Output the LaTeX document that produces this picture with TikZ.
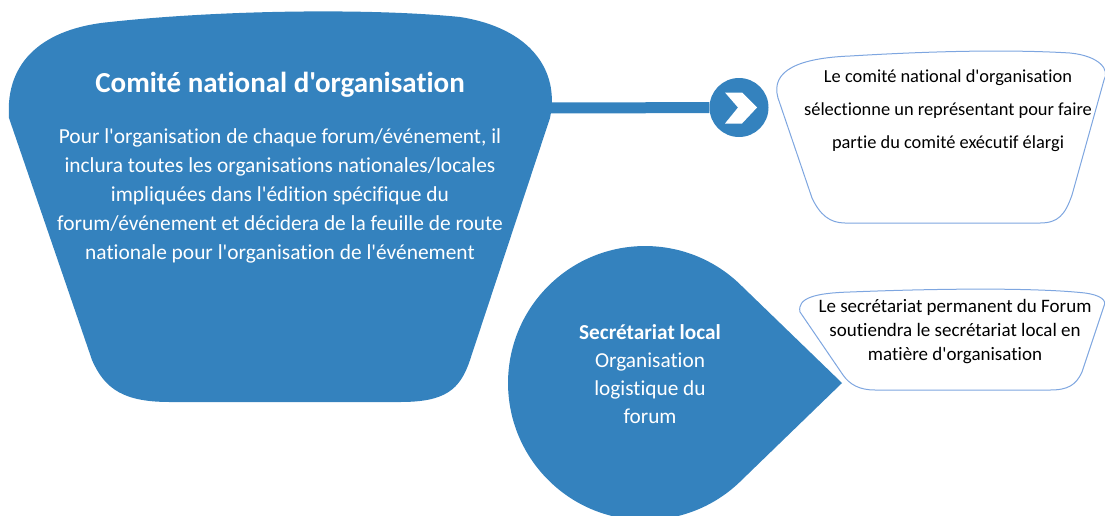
\documentclass[tikz,border=0pt]{standalone}
\usepackage{fontspec}
\setmainfont{Carlito}[Ligatures={TeXOff,CommonOff}]
\usetikzlibrary{calc}
\definecolor{mblue}{RGB}{52,130,190}
\definecolor{oblue}{RGB}{126,166,224}
\tikzset{
  bluefill/.style={fill=mblue, draw=none},
  outl/.style={draw=oblue, line width=1pt, fill=white},
  wtext/.style={text=white, align=center, inner sep=0pt},
  btext/.style={text=black, align=center, inner sep=0pt},
}
\begin{document}
\begin{tikzpicture}[x=1pt,y=-1pt]
\useasboundingbox (0,0) rectangle (1105,515);
% big shape
\fill[mblue] (9,118) .. controls (5,60) and (45,28) .. (110,22)
  .. controls (220,10) and (370,8) .. (460,17)
  .. controls (530,28) and (560,70) .. (550,118)
  -- (470,360) .. controls (460,390) and (445,402) .. (400,402)
  -- (170,402) .. controls (125,402) and (105,390) .. (92,360) -- cycle;
\coordinate (bigR) at (548,108);
% connector and chevron circle
\node[circle, fill=mblue, minimum size=59pt, inner sep=0pt] (chev) at (739,107.5) {};
\draw[mblue, line width=11pt] (bigR) -- (chev);
\begin{scope}[shift={(chev.center)}]
\fill[white] (-14,-15) -- (3,-15) -- (18,0) -- (3,16) -- (-14,16) -- (-1,0) -- cycle;
\end{scope}
% right shape 1
\path[outl] (778,98) .. controls (770,70) and (800,58) .. (850,56)
  .. controls (950,50) and (1020,50) .. (1070,53)
  .. controls (1100,56) and (1110,70) .. (1104,80)
  -- (1072,195) .. controls (1065,215) and (1058,223) .. (1040,223)
  -- (845,223) .. controls (830,223) and (820,215) .. (812,198) -- cycle;
% teardrop
\fill[mblue] (842,383) -- (741.9,479.9) arc[start angle=45, end angle=315, radius=137] -- cycle;
% right shape 2
\path[outl] (800,312) .. controls (797,298) and (815,293) .. (850,292)
  .. controls (950,288) and (1040,288) .. (1085,293)
  .. controls (1100,295) and (1107,300) .. (1104,306)
  -- (1082,372) .. controls (1076,385) and (1068,390) .. (1050,390)
  -- (875,390) .. controls (860,390) and (850,385) .. (843,375) -- cycle;
% texts
\node[wtext, font=\fontsize{29}{34}\selectfont\bfseries] (title) at (280,85) {Comité national d'organisation};
\node[wtext, font=\fontsize{21.4}{29}\selectfont] (body) at (280,196) {Pour l'organisation de chaque forum/événement, il\\inclura toutes les organisations nationales/locales\\impliquées dans l'édition spécifique du\\forum/événement et décidera de la feuille de route\\nationale pour l'organisation de l'événement};
\node[btext, font=\fontsize{18.4}{33}\selectfont] (sel) at (948,111) {Le comité national d'organisation\\sélectionne un représentant pour faire\\partie du comité exécutif élargi};
\node[btext, font=\fontsize{19}{24}\selectfont] (sup) at (955,332) {Le secrétariat permanent du Forum\\soutiendra le secrétariat local en\\matière d'organisation};
\node[wtext, font=\fontsize{21.3}{28}\selectfont] (sec) at (650,374) {\textbf{Secrétariat local}\\Organisation\\logistique du\\forum};
\end{tikzpicture}
\end{document}
